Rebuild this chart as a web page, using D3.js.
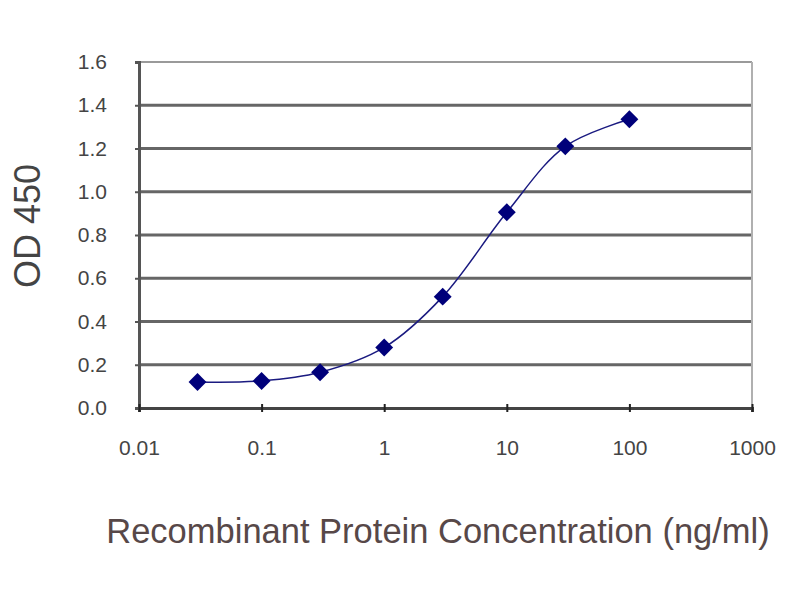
<!DOCTYPE html>
<html>
<head>
<meta charset="utf-8">
<script src="https://cdn.jsdelivr.net/npm/d3@7"></script>
<style>
  body { margin: 0; background: #fff; }
  svg { display: block; font-family: "Liberation Sans", Arial, sans-serif; }
</style>
</head>
<body>
<svg width="800" height="600"></svg>
<script>
// concentration (ng/ml) and OD 450
const concentrations = [0.03, 0.1, 0.3, 1, 3, 10, 30, 100];
const odValues = [0.12, 0.125, 0.165, 0.28, 0.515, 0.905, 1.21, 1.335];
const xTicks = [0.01, 0.1, 1, 10, 100, 1000];
const xTickLabels = ["0.01", "0.1", "1", "10", "100", "1000"];
const yTicks = [0, 0.2, 0.4, 0.6, 0.8, 1.0, 1.2, 1.4, 1.6];

const svg = d3.select("svg");
const plotLeft = 139, plotRight = 752, plotTop = 62, plotBottom = 408;

const x = d3.scaleLog().domain([0.01, 1000]).range([plotLeft, plotRight]);
const y = d3.scaleLinear().domain([0, 1.6]).range([plotBottom, plotTop]);

// horizontal gridlines
svg.append("g").selectAll("line")
    .data(yTicks.filter(d => d > 0))
    .join("line")
    .attr("x1", plotLeft).attr("x2", plotRight)
    .attr("y1", d => y(d)).attr("y2", d => y(d))
    .style("stroke", d => d === 1.6 ? "#9a9a9a" : "#666")
    .style("stroke-width", d => d === 1.6 ? 2 : 3);

// right border
svg.append("line")
    .attr("x1", plotRight).attr("x2", plotRight)
    .attr("y1", plotTop).attr("y2", plotBottom)
    .style("stroke", "#b0b0b0").style("stroke-width", 2);

// y axis
const yAxis = svg.append("g")
    .attr("transform", `translate(${plotLeft},0)`)
    .call(d3.axisLeft(y).tickValues(yTicks).tickFormat(d3.format(".1f")).tickSize(4).tickPadding(28));
yAxis.select(".domain").style("stroke", "#555").style("stroke-width", 3);
yAxis.selectAll(".tick line").style("stroke", "#555").style("stroke-width", 2);
yAxis.selectAll("text").style("font-size", "21px").style("fill", "#444");

// x axis
const xAxis = svg.append("g")
    .attr("transform", `translate(0,${plotBottom})`)
    .call(d3.axisBottom(x).tickValues(xTicks).tickFormat((d, i) => xTickLabels[i]).tickSize(4).tickPadding(28));
xAxis.select(".domain").style("stroke", "#444").style("stroke-width", 3);
xAxis.selectAll(".tick line").attr("y1", -4).style("stroke", "#222").style("stroke-width", 2);
xAxis.selectAll("text").style("font-size", "21px").style("fill", "#444");

// smoothed line
const pts = concentrations.map((c, i) => [x(c), y(odValues[i])]);
svg.append("path")
    .attr("d", d3.line().curve(d3.curveCatmullRom.alpha(0.5))(pts))
    .style("fill", "none")
    .style("stroke", "#1a1a80")
    .style("stroke-width", 1.5);

// diamond markers
svg.append("g").selectAll("path")
    .data(pts)
    .join("path")
    .attr("d", d3.symbol(d3.symbolSquare, 160))
    .attr("transform", d => `translate(${d[0]},${d[1]}) rotate(45)`)
    .style("fill", "#00007a");

// axis titles
svg.append("text")
    .attr("transform", "translate(40,226) rotate(-90)")
    .attr("text-anchor", "middle")
    .style("font-size", "36px")
    .style("fill", "#444")
    .text("OD 450");

svg.append("text")
    .attr("x", 438).attr("y", 543)
    .attr("text-anchor", "middle")
    .style("font-size", "34.5px")
    .style("fill", "#574848")
    .text("Recombinant Protein Concentration (ng/ml)");
</script>
</body>
</html>
